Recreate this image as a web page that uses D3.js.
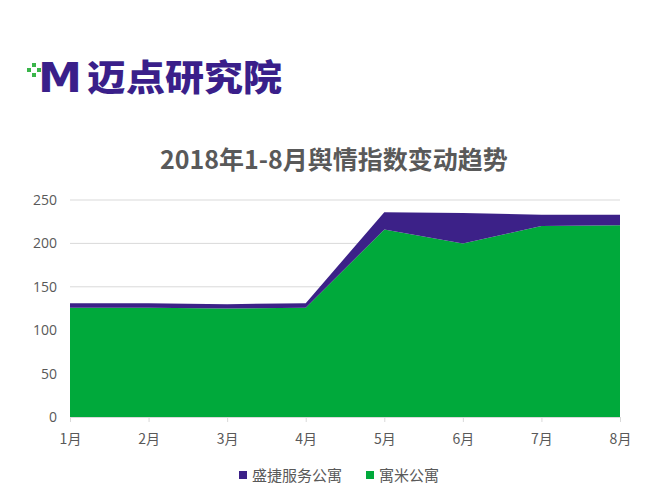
<!DOCTYPE html>
<html>
<head>
<meta charset="utf-8">
<script src="https://cdn.jsdelivr.net/npm/d3@7"></script>
<style>
  body { margin: 0; background: #fff; }
  text { font-family: "Noto Sans CJK SC", "Open Sans", sans-serif; }
</style>
</head>
<body>
<svg id="chart"></svg>
<script>
// data
const months = ['1月', '2月', '3月', '4月', '5月', '6月', '7月', '8月'];
const yumi = [126, 126, 125, 126, 216, 200, 220, 221];      // 寓米公寓
const shengjie = [5, 5, 5, 5, 20, 35, 13, 12];              // 盛捷服务公寓
const seriesNames = ['寓米公寓', '盛捷服务公寓'];
const yTicks = [0, 50, 100, 150, 200, 250];

const W = 650, H = 501;
const margin = {top: 200, right: 30, bottom: 84, left: 70};
const width = W - margin.left - margin.right;
const height = H - margin.top - margin.bottom;

const colors = {'寓米公寓': '#00a93b', '盛捷服务公寓': '#3c2188'};

const table = months.map((m, i) => ({month: m, '寓米公寓': yumi[i], '盛捷服务公寓': shengjie[i]}));
const stacked = d3.stack().keys(seriesNames)(table);

const svg = d3.select('#chart').attr('width', W).attr('height', H);

// logo
const logo = svg.append('g').attr('transform', 'translate(27,62)');
[[0, 6], [5, 1], [5, 11], [10, 6]].forEach(p => {
  logo.append('rect').attr('x', p[0]).attr('y', p[1]).attr('width', 4).attr('height', 4).attr('fill', '#3ab54a');
});
logo.append('text')
    .attr('x', 11).attr('y', 30)
    .attr('font-size', 40).attr('font-weight', 'bold')
    .attr('fill', '#3a1f8a')
    .attr('textLength', 44).attr('lengthAdjust', 'spacingAndGlyphs')
    .style('font-family', '"DejaVu Sans", sans-serif')
    .text('M');
logo.append('text')
    .attr('x', 60).attr('y', 29)
    .attr('font-size', 36).attr('font-weight', 900)
    .attr('fill', '#3a1f8a')
    .attr('textLength', 195).attr('lengthAdjust', 'spacingAndGlyphs')
    .text('迈点研究院');

svg.append('text')
    .attr('x', 334).attr('y', 169)
    .attr('text-anchor', 'middle')
    .attr('font-size', 25).attr('font-weight', 'bold')
    .attr('fill', '#595959')
    .text('2018年1-8月舆情指数变动趋势');

const g = svg.append('g').attr('transform', `translate(${margin.left},${margin.top})`);

const x = d3.scalePoint().domain(months).range([0, width]);
const y = d3.scaleLinear().domain([0, 250]).range([height, 0]);

// gridlines
g.append('g')
    .selectAll('line')
    .data(yTicks.slice(1))
  .enter().append('line')
    .attr('x1', 0).attr('x2', width)
    .attr('y1', d => y(d)).attr('y2', d => y(d))
    .attr('stroke', '#d9d9d9').attr('stroke-width', 1);

const area = d3.area()
    .x(d => x(d.data.month))
    .y0(d => y(d[0]))
    .y1(d => y(d[1]));

g.selectAll('path.layer')
    .data(stacked)
  .enter().append('path')
    .attr('class', 'layer')
    .attr('fill', d => colors[d.key])
    .attr('d', area);

// axes
const xAxis = g.append('g')
    .attr('transform', `translate(0,${height})`)
    .call(d3.axisBottom(x).tickSize(5).tickPadding(12));
xAxis.select('.domain').attr('stroke', '#d9d9d9');
xAxis.selectAll('.tick line').attr('stroke', '#d9d9d9');
xAxis.selectAll('text').attr('font-size', 14).attr('fill', '#595959')
    .style('font-family', '"Noto Sans CJK SC", sans-serif');

const yAxis = g.append('g')
    .call(d3.axisLeft(y).tickValues(yTicks).tickSize(0).tickPadding(13));
yAxis.select('.domain').remove();
yAxis.selectAll('text').attr('font-size', 14).attr('fill', '#595959')
    .style('font-family', '"Open Sans", sans-serif');

// legend
const legendItems = ['盛捷服务公寓', '寓米公寓'];
const legendX = [239, 366];
const legend = svg.append('g').attr('transform', 'translate(0,475)');
legendItems.forEach((name, i) => {
  legend.append('rect')
      .attr('x', legendX[i]).attr('y', -4)
      .attr('width', 8).attr('height', 8)
      .attr('fill', colors[name]);
  legend.append('text')
      .attr('x', legendX[i] + 13).attr('y', 5.5)
      .attr('font-size', 15).attr('fill', '#595959')
      .text(name);
});
</script>
</body>
</html>
